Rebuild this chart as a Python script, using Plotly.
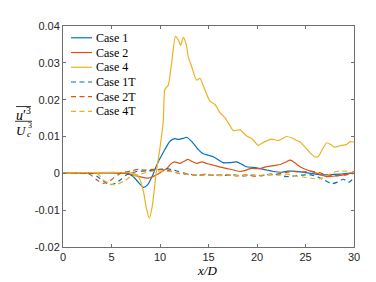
import plotly.graph_objects as go

# ---- data ----
c4_x = [0, 7.3, 7.8, 8.3, 8.6, 8.9, 9.2, 9.6, 10.0, 10.34, 10.5, 10.86, 11.2, 11.6, 11.9, 12.13, 12.4, 12.7, 12.92, 13.27, 13.78, 14.12, 14.5, 15.15, 15.67, 16.2, 16.7, 17.2, 17.56, 18.25, 18.9, 19.4, 19.8, 20.1, 20.8, 21.5, 22.2, 23.06, 23.6, 24.1, 24.4, 25.0, 25.5, 25.98, 26.3, 26.8, 27.2, 27.6, 28.0, 28.7, 29.2, 29.6, 30]
c4_y = [0, 0, -0.001, -0.005, -0.0095, -0.0122, -0.009, 0, 0.007, 0.0142, 0.0227, 0.024, 0.030, 0.0372, 0.0362, 0.0347, 0.0369, 0.035, 0.0316, 0.0289, 0.0253, 0.0258, 0.0235, 0.0196, 0.0187, 0.0164, 0.0151, 0.013, 0.0116, 0.0118, 0.0102, 0.0095, 0.0085, 0.0076, 0.0086, 0.0093, 0.0089, 0.0100, 0.0096, 0.0089, 0.0086, 0.0070, 0.0055, 0.0045, 0.0045, 0.0068, 0.0083, 0.0078, 0.0071, 0.0076, 0.0078, 0.0086, 0.0085]

c1_x = [0, 6.6, 7.2, 7.8, 8.28, 8.7, 9.2, 9.66, 10.3, 11.03, 11.55, 11.9, 12.4, 12.75, 13.2, 13.6, 14.0, 14.46, 15.0, 15.5, 16.0, 16.5, 17.2, 17.9, 18.4, 18.9, 19.6, 20.3, 21.0, 21.7, 22.5, 23.2, 23.7, 24.5, 25.5, 26.5, 27.2, 27.9, 28.6, 29.3, 30]
c1_y = [0, 0, -0.0008, -0.0025, -0.0038, -0.0032, -0.0008, 0.0022, 0.0055, 0.0087, 0.0094, 0.0092, 0.0095, 0.0098, 0.0088, 0.0076, 0.0063, 0.0053, 0.0049, 0.0045, 0.0037, 0.0029, 0.0029, 0.0031, 0.0025, 0.0018, 0.0016, 0.0013, 0.0009, 0.0005, 0.0003, 0.0006, 0.0006, 0.0004, 0.0, -0.0004, -0.0004, -0.0003, -0.0002, 0.0, 0.0]

c2_x = [0, 6.5, 7.2, 7.9, 8.8, 9.66, 10.2, 10.7, 11.1, 11.5, 12.06, 12.5, 12.9, 13.3, 13.8, 14.3, 14.9, 15.5, 16.2, 16.9, 17.6, 18.25, 18.8, 19.3, 20.3, 21.0, 21.7, 22.4, 23.0, 23.4, 23.7, 24.2, 24.8, 25.5, 26.2, 27.2, 28.2, 29.2, 30]
c2_y = [0, 0, -0.0004, -0.0009, -0.0013, -0.0004, 0.0005, 0.0013, 0.0025, 0.0031, 0.0027, 0.0033, 0.0038, 0.0032, 0.0027, 0.0031, 0.0026, 0.0022, 0.0017, 0.0013, 0.0009, 0.0005, 0.0008, 0.0013, 0.0013, 0.0018, 0.0021, 0.0024, 0.0031, 0.0036, 0.0033, 0.0022, 0.0013, 0.0006, 0.0, -0.0009, -0.0007, -0.0003, 0.0005]

c1t_x = [0, 3.0, 3.6, 4.1, 4.5, 4.85, 5.4, 5.9, 6.6, 7.6, 8.6, 9.66, 10.5, 11.4, 11.9, 12.6, 13.5, 14.5, 15.5, 16.5, 17.5, 18.5, 19.5, 20.5, 21.4, 22.4, 23.0, 23.8, 24.6, 25.5, 26.3, 27.2, 27.7, 28.3, 28.9, 29.5, 30]
c1t_y = [0, 0, -0.001, -0.002, -0.0027, -0.0031, -0.0027, -0.0018, -0.0003, 0.0005, 0.0007, 0.0009, 0.0013, 0.0009, 0.0005, 0.0, -0.0004, -0.0005, -0.0004, -0.0006, -0.0004, -0.0007, -0.0005, -0.0006, -0.0002, -0.0004, -0.0009, -0.0007, -0.0005, -0.0004, -0.0010, -0.0022, -0.0028, -0.0024, -0.0016, -0.0024, -0.0012]

c2t_x = [0, 2.4, 2.8, 3.5, 4.15, 4.7, 5.2, 5.9, 6.9, 7.9, 8.3, 9.3, 10.7, 11.9, 12.8, 13.8, 14.8, 15.8, 16.8, 17.8, 18.8, 19.8, 20.5, 21.3, 22.5, 23.7, 24.6, 25.5, 26.4, 27.2, 28.2, 29.2, 30]
c2t_y = [0, 0, -0.0003, -0.0018, -0.0027, -0.0022, -0.0013, 0, 0.0006, 0.0011, 0.0009, 0.0011, 0.0009, 0.0, -0.0003, -0.0005, -0.0002, -0.0006, -0.0003, -0.0007, -0.0004, -0.0008, -0.0006, -0.0004, 0.0, 0.0005, 0.0003, 0.0006, 0.0002, -0.0004, -0.0006, -0.0004, 0.0]

c4t_x = [0, 3.5, 4.15, 4.7, 5.2, 5.5, 6.2, 6.9, 7.9, 9.0, 10.0, 11.0, 12.0, 13.1, 14.1, 15.1, 16.1, 17.1, 18.1, 19.1, 20.1, 21.1, 22.1, 23.1, 24.1, 24.8, 25.5, 26.5, 27.3, 28.2, 29.2, 30]
c4t_y = [0, 0, -0.0018, -0.0027, -0.0031, -0.0031, -0.0022, -0.0011, -0.0003, 0.0005, 0.0006, 0.0005, 0.0, -0.0003, -0.0005, -0.0003, -0.0006, -0.0004, -0.0007, -0.0004, -0.0006, -0.0003, -0.0005, -0.0002, -0.0008, -0.0010, -0.0013, -0.0015, -0.0005, 0.0005, 0.0006, 0.0]

series_names = ["Case 1", "Case 2", "Case 4", "Case 1T", "Case 2T", "Case 4T"]
x_ticks = [0, 5, 10, 15, 20, 25, 30]
y_ticks = [-0.02, -0.01, 0, 0.01, 0.02, 0.03, 0.04]
y_ticktext = ["-0.02", "-0.01", "0", "0.01", "0.02", "0.03", "0.04"]

BLUE, RED, YEL = "#0072BD", "#D95319", "#EDB120"
DASH = "5px,3.5px"

# page body has an 8px default margin; figure sized to fit the window
OFF = 8
W, H = 368, 274
L, R, T, B = 55, 22, 14, 35
pw, ph = W - L - R, H - T - B


def px(xp):
    return (xp - OFF - L) / pw


def py(yp):
    return (H - B - (yp - OFF)) / ph


fig = go.Figure()
data = [
    (c1_x, c1_y, BLUE, "solid"),
    (c2_x, c2_y, RED, "solid"),
    (c4_x, c4_y, YEL, "solid"),
    (c1t_x, c1t_y, BLUE, DASH),
    (c2t_x, c2t_y, RED, DASH),
    (c4t_x, c4t_y, YEL, DASH),
]
for i, (name, (xs, ys, col, dash)) in enumerate(zip(series_names, data)):
    fig.add_trace(go.Scatter(x=xs, y=ys, mode="lines", name=name, showlegend=False,
                             line=dict(color=col, width=1.2, dash=dash,
                                       shape="spline", smoothing=0.6)))
    # compact legend entry (MATLAB-style spacing)
    ry = 34 + 15 * i
    fig.add_shape(type="line", xref="paper", yref="paper", x0=px(71), x1=px(92),
                  y0=py(ry), y1=py(ry), line=dict(color=col, width=1.2, dash=dash))
    fig.add_annotation(text=name, x=px(94), y=py(ry), xref="paper", yref="paper",
                       showarrow=False, xanchor="left", yanchor="middle",
                       font=dict(family="Liberation Serif", size=12, color="#000"))

axis_common = dict(showline=True, linecolor="#6e6e6e", linewidth=1, mirror="ticks",
                   ticks="inside", ticklen=3, tickcolor="#6e6e6e", showgrid=False,
                   zeroline=False, tickfont=dict(family="Liberation Sans", size=11, color="#262626"))

fig.update_layout(
    width=W, height=H,
    margin=dict(l=L, r=R, t=T, b=B),
    paper_bgcolor="white", plot_bgcolor="white",
    xaxis=dict(range=[0, 30], tickvals=x_ticks, **axis_common),
    yaxis=dict(range=[-0.02, 0.04], tickvals=y_ticks, ticktext=y_ticktext, **axis_common),
    showlegend=False,
)

serif = "Liberation Serif"
ann = [
    dict(text="<i>x/D</i>", x=px(207), y=py(271), size=13),
    dict(text="<i>u</i>′<sup>3</sup>", x=px(23.5), y=py(111.5), size=14),
    dict(text="<i>U</i>", x=px(21), y=py(128), size=13),
    dict(text="3", x=px(29.5), y=py(123), size=8),
    dict(text="<i>c</i>", x=px(29), y=py(132), size=9),
]
for a in ann:
    fig.add_annotation(text=a["text"], x=a["x"], y=a["y"], xref="paper", yref="paper",
                       showarrow=False, xanchor="center", yanchor="middle",
                       font=dict(family=serif, size=a["size"], color="#000"))

fig.add_shape(type="line", xref="paper", yref="paper", x0=px(15), x1=px(32),
              y0=py(119), y1=py(119), line=dict(color="#000", width=0.8))
fig.add_shape(type="line", xref="paper", yref="paper", x0=px(16), x1=px(31),
              y0=py(104), y1=py(104), line=dict(color="#000", width=0.8))

fig.write_html("out.html")
